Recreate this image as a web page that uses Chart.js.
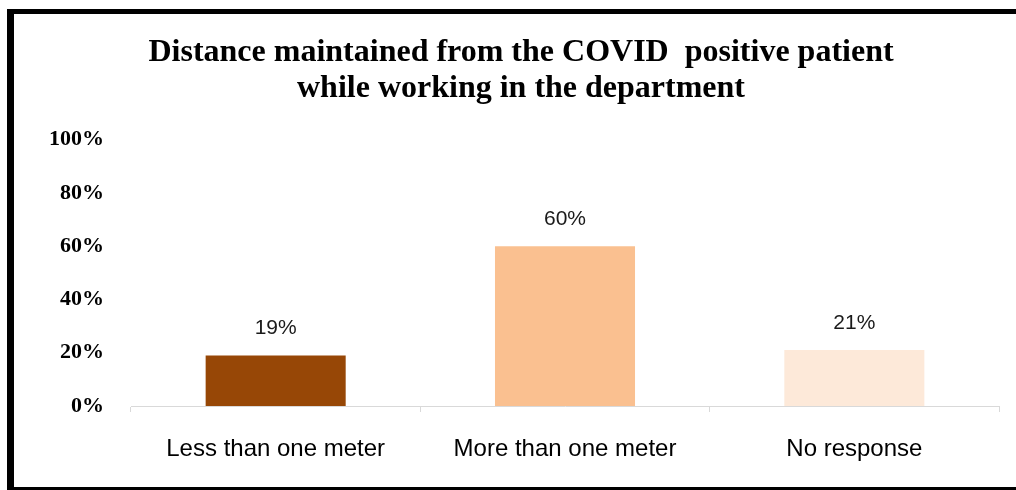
<!DOCTYPE html>
<html>
<head>
<meta charset="utf-8">
<script src="https://cdn.jsdelivr.net/npm/chart.js@4.4.0/dist/chart.umd.min.js"></script>
<style>
  html, body { margin: 0; padding: 0; background: #fff; overflow: hidden; }
  #frame { position: absolute; left: 7px; top: 9px; width: 1100px; height: 473px;
           border-left: 7px solid #000; border-top: 5px solid #000; border-bottom: 3px solid #000; }
  #wrap { position: absolute; left: 14px; top: 14px; width: 1014px; height: 473px; }
</style>
</head>
<body>
<div id="frame"></div>
<div id="wrap"><canvas id="c" width="1014" height="473"></canvas></div>
<script>
const titleLines = ["Distance maintained from the COVID  positive patient", "while working in the department"];
const categories = ["Less than one meter", "More than one meter", "No response"];
const values = [19, 60, 21];
const barColors = ["#974706", "#FAC090", "#FDE9D9"];
const yTicks = [0, 20, 40, 60, 80, 100];

const dataLabelPlugin = {
  id: 'dataLabels',
  afterDatasetsDraw(chart) {
    const ctx = chart.ctx;
    const meta = chart.getDatasetMeta(0);
    ctx.save();
    ctx.font = '21px "Liberation Sans", Arial, sans-serif';
    ctx.fillStyle = '#1a1a1a';
    ctx.textAlign = 'center';
    ctx.textBaseline = 'alphabetic';
    meta.data.forEach((bar, i) => {
      ctx.fillText(values[i] + '%', bar.x, bar.y - 21);
    });
    ctx.restore();
  }
};

new Chart(document.getElementById('c'), {
  type: 'bar',
  data: {
    labels: categories,
    datasets: [{
      data: values,
      backgroundColor: barColors,
      borderWidth: 0,
      categoryPercentage: 1,
      barPercentage: 0.484,
      yAxisID: 'y'
    }]
  },
  options: {
    responsive: false,
    animation: false,
    devicePixelRatio: 1,
    layout: { padding: 0 },
    plugins: {
      legend: { display: false },
      tooltip: { enabled: false },
      title: {
        display: true,
        text: titleLines,
        color: '#000',
        font: { family: '"Liberation Serif", "Times New Roman", serif', size: 32, weight: 'bold', lineHeight: 1.15 },
        padding: { top: 20, bottom: 32 }
      }
    },
    scales: {
      x: {
        grid: { display: true, drawOnChartArea: false, drawTicks: true, tickLength: 6, color: '#d9d9d9', offset: true },
        border: { display: true, color: '#d9d9d9', width: 1 },
        ticks: { color: '#000', padding: 23, font: { family: '"Liberation Sans", Arial, sans-serif', size: 24 } },
        afterFit(scale) { scale.height = 81; }
      },
      y: {
        min: 0, max: 100,
        afterBuildTicks(scale) { scale.ticks = yTicks.map(v => ({ value: v })); },
        grid: { display: false, drawTicks: false },
        border: { display: false },
        ticks: {
          color: '#000', padding: 27,
          font: { family: '"Liberation Serif", "Times New Roman", serif', size: 22, weight: 'bold' },
          callback: v => v + '%'
        },
        afterFit(scale) { scale.width = 117; }
      },
      yRight: {
        type: 'linear',
        position: 'right',
        display: true,
        grid: { display: false, drawTicks: false },
        border: { display: false },
        ticks: { display: false },
        afterFit(scale) { scale.width = 29; }
      }
    }
  },
  plugins: [dataLabelPlugin]
});
</script>
</body>
</html>
